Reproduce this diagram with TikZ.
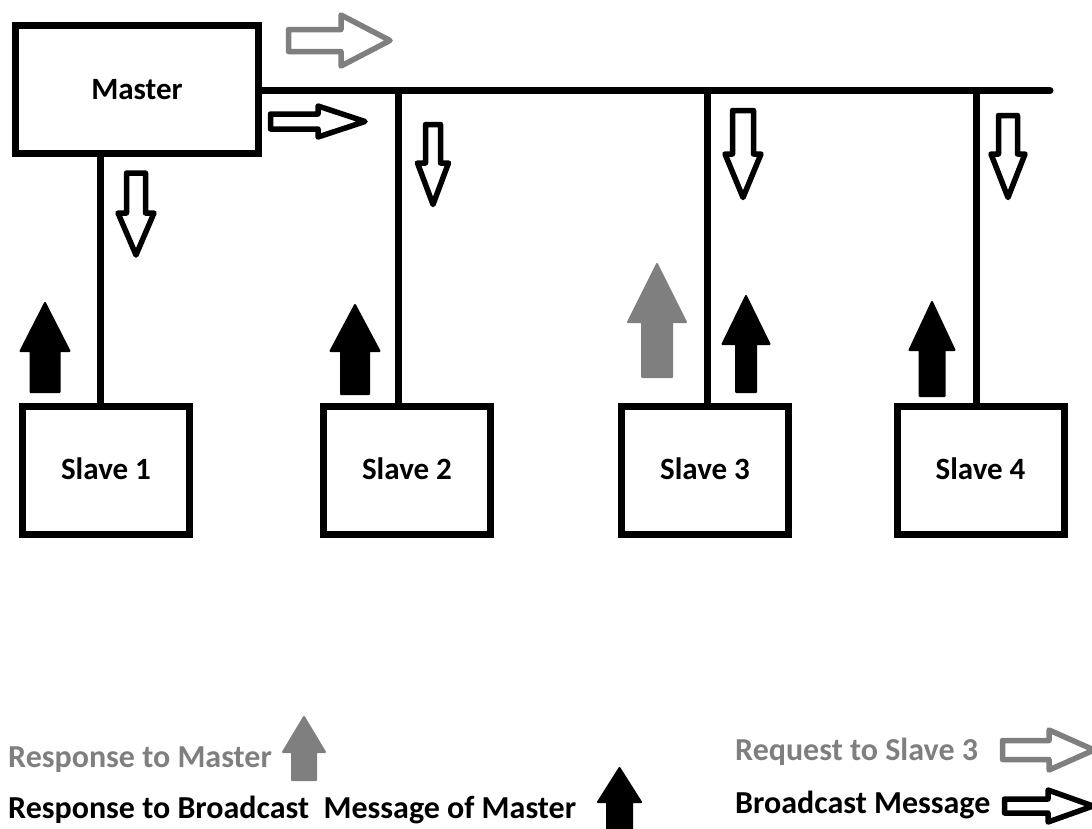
\documentclass[tikz,border=0pt]{standalone}
\usepackage{fontspec}
\setmainfont{Carlito}
\begin{document}
\begin{tikzpicture}[x=1pt,y=-1pt,
  wire/.style={line width=7pt},
  unitbox/.style={draw,line width=7pt,inner sep=0pt,minimum height=128pt,
    font=\fontsize{31}{36}\selectfont\bfseries},
  legendtext/.style={inner sep=0pt,font=\fontsize{32}{38}\selectfont\bfseries},
  hollow/.style={line width=5.5pt,line join=round},
  solid arrow/.style={line width=2pt,line join=round}]
\definecolor{msggray}{HTML}{7F7F7F}

% hollow arrow pointing down: cx, top, body half width, head half width, head start, tip
\newcommand\hollowdown[7][black]{%
  \draw[hollow,#1] (#2-#4,#3) -- (#2+#4,#3) -- (#2+#4,#6) -- (#2+#5,#6)
    -- (#2,#7) -- (#2-#5,#6) -- (#2-#4,#6) -- cycle;}
% hollow arrow pointing right: left, cy, body half height, head half height, head start, tip
\newcommand\hollowright[7][black]{%
  \draw[hollow,#1] (#2,#3-#4) -- (#6,#3-#4) -- (#6,#3-#5) -- (#7,#3)
    -- (#6,#3+#5) -- (#6,#3+#4) -- (#2,#3+#4) -- cycle;}
% filled arrow pointing up: cx, tip, head base, bottom, body half width, head half width
\newcommand\solidup[7][black]{%
  \filldraw[solid arrow,#1] (#2-#6,#5) -- (#2+#6,#5) -- (#2+#6,#4) -- (#2+#7,#4)
    -- (#2,#3) -- (#2-#7,#4) -- (#2-#6,#4) -- cycle;}

\useasboundingbox (0,0) rectangle (1092,828);
\clip (0,0) rectangle (1092,828);

% bus units
\node[unitbox,minimum width=243pt] (master) at (137,89.5) {Master};
\node[unitbox,minimum width=167pt] (s1) at (106,470.5) {\raisebox{3pt}{Slave 1}};
\node[unitbox,minimum width=167pt] (s2) at (407,470.5) {\raisebox{3pt}{Slave 2}};
\node[unitbox,minimum width=167pt] (s3) at (705,470.5) {\raisebox{3pt}{Slave 3}};
\node[unitbox,minimum width=167pt] (s4) at (980.5,470.5) {\raisebox{3pt}{Slave 4}};

% bus and drop lines
\coordinate (busend) at (1050,90.5);
\coordinate (tap1) at (100.5,0);
\coordinate (tap2) at (398.5,0);
\coordinate (tap3) at (707.5,0);
\coordinate (tap4) at (976,0);
\draw[wire,line cap=round] (master.east |- busend) -- (busend);
\draw[wire] (tap1 |- master.south) -- (tap1 |- s1.north);
\draw[wire] (tap2 |- busend) -- (tap2 |- s2.north);
\draw[wire] (tap3 |- busend) -- (tap3 |- s3.north);
\draw[wire] (tap4 |- busend) -- (tap4 |- s4.north);

% request and broadcast messages
\hollowright[msggray]{288.5}{40.5}{11}{25.5}{341}{390}
\hollowright{270.5}{121.5}{7.5}{15.5}{318}{365}
\hollowdown{136}{173}{9.5}{18}{213}{255}
\hollowdown{433}{124.5}{7.5}{15.5}{163}{204.5}
\hollowdown{743}{110.5}{10.5}{18}{154}{197.5}
\hollowdown{1008}{115.5}{9.5}{17}{154}{197.5}

% responses
\solidup{45}{303}{351}{392}{14.5}{24.5}
\solidup{355}{305}{351}{394}{14}{24.5}
\solidup[msggray,fill=msggray]{657}{264}{322}{377}{15}{29}
\solidup{746}{296}{344}{392}{10}{23.5}
\solidup{932}{302}{350}{396}{12.5}{22.5}

% legend
\node[legendtext,anchor=base west,text=msggray] (lresp) at (8,767) {Response to Master};
\node[legendtext,anchor=base west] (lbresp) at (8,818) {Response to Broadcast\ \ Message of Master};
\node[legendtext,anchor=base west,text=msggray] (lreq) at (735,760) {Request to Slave 3};
\node[legendtext,anchor=base west] (lbc) at (735,813) {Broadcast Message};
\solidup[msggray,fill=msggray]{304}{717}{752}{780}{12}{21}
\solidup{619.5}{768}{802}{840}{12.5}{21.5}
\hollowright[msggray]{1002.5}{750}{9.5}{20}{1049}{1094}
\hollowright{1004.5}{806}{7}{16}{1048}{1093}
\end{tikzpicture}
\end{document}
